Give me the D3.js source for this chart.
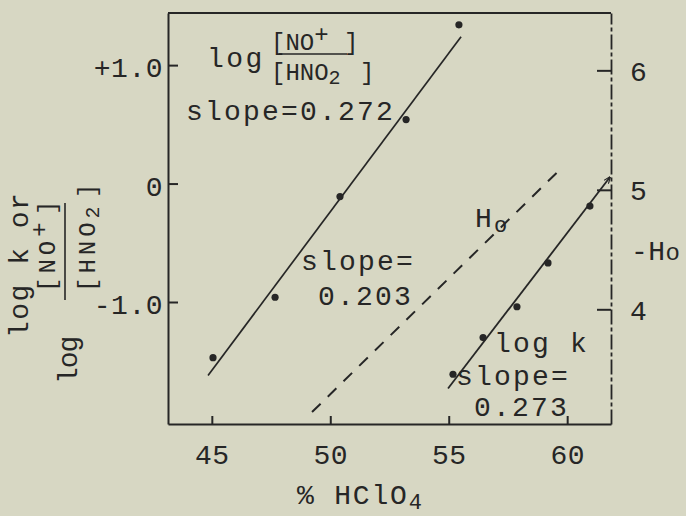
<!DOCTYPE html>
<html>
<head>
<meta charset="utf-8">
<script src="https://cdn.jsdelivr.net/npm/d3@7"></script>
<style>
  body { margin: 0; background: #d7d7c3; }
  svg { display: block; }
  text { font-family: "Liberation Mono", "DejaVu Sans Mono", monospace; fill: #262626; }
</style>
</head>
<body>
<script>
// log [NO+]/[HNO2] against % HClO4 (left axis)
const noPct = [45.05, 47.67, 50.41, 53.20, 55.43];
const noLog = [-1.47, -0.96, -0.11, 0.54, 1.34];
const noFitPct = [44.84, 55.52];
const noFitLog = [-1.62, 1.24];

// log k against % HClO4 (left axis)
const kPct = [55.18, 56.45, 57.88, 59.19, 60.96];
const kLog = [-1.61, -1.30, -1.04, -0.67, -0.19];
const kFitPct = [54.97, 61.81];
const kFitLog = [-1.73, 0.055];

// -H0 line (right axis)
const h0Pct = [49.23, 59.70];
const h0Value = [3.14, 5.17];

// Ticks
const xTicks = [45, 50, 55, 60];
const leftTicks = [1, 0, -1];
const leftTickLabels = ["+1.0", "0", "-1.0"];
const rightTicks = [6, 5, 4];

const ink = "#262626";
const outerWidth = 686;
const outerHeight = 516;
const margin = { top: 13, right: 75, bottom: 92, left: 168 };

const svg = d3.select("body")
  .append("svg")
  .attr("width", outerWidth)
  .attr("height", outerHeight);

const x = d3.scaleLinear()
  .domain([43.15, 61.85])
  .range([margin.left, outerWidth - margin.right]);

const yLeft = d3.scaleLinear()
  .domain([-2.03, 1.44])
  .range([outerHeight - margin.bottom, margin.top]);

const yRight = d3.scaleLinear()
  .domain([3.04, 6.48])
  .range([outerHeight - margin.bottom, margin.top]);

const bottomY = yLeft.range()[0];
const topY = yLeft.range()[1];

// Small arrow head at the end of the log k line
svg.append("defs")
  .append("marker")
  .attr("id", "arrow")
  .attr("viewBox", "0 0 10 10")
  .attr("refX", 9)
  .attr("refY", 5)
  .attr("markerWidth", 7)
  .attr("markerHeight", 7)
  .attr("markerUnits", "userSpaceOnUse")
  .attr("orient", "auto")
  .append("path")
  .attr("d", "M0,1L10,5L0,9")
  .attr("fill", "none")
  .attr("stroke", ink)
  .attr("stroke-width", 1.6);

// Axes, all ticks point into the frame
const fontAxis = (g) =>
{
  g.attr("font-family", null).attr("font-size", 28);
  g.selectAll("text").style("letter-spacing", "0.5px");
  g.selectAll("line, path").attr("stroke", ink).attr("stroke-width", 2);
};

svg.append("g")
  .attr("transform", `translate(${x.range()[0]},0)`)
  .call(d3.axisLeft(yLeft)
    .tickValues(leftTicks)
    .tickFormat((d, i) => leftTickLabels[i])
    .tickSize(-10)
    .tickSizeOuter(0)
    .tickPadding(5))
  .call(fontAxis)
  .call(g => g.selectAll("text").attr("dy", "0.42em"));

svg.append("g")
  .attr("transform", `translate(${x.range()[1]},0)`)
  .call(d3.axisRight(yRight)
    .tickValues(rightTicks)
    .tickFormat(d3.format("d"))
    .tickSize(-14)
    .tickSizeOuter(0)
    .tickPadding(19))
  .call(fontAxis)
  .call(g => g.selectAll("text").attr("dy", "0.36em"))
  .call(g => g.select(".domain").attr("stroke-width", 1.8).attr("stroke-dasharray", "15,3,4,3"));

svg.append("g")
  .attr("transform", `translate(0,${bottomY})`)
  .call(d3.axisBottom(x)
    .tickValues(xTicks)
    .tickFormat(d3.format("d"))
    .tickSize(-8)
    .tickSizeOuter(0)
    .tickPadding(20))
  .call(fontAxis);

// Top edge of the frame
svg.append("line")
  .attr("x1", x.range()[0])
  .attr("x2", x.range()[1])
  .attr("y1", topY)
  .attr("y2", topY)
  .attr("stroke", ink)
  .attr("stroke-width", 2);

// Fitted lines
const lineLeft = d3.line()
  .x(d => x(d[0]))
  .y(d => yLeft(d[1]));

const lineRight = d3.line()
  .x(d => x(d[0]))
  .y(d => yRight(d[1]));

svg.append("path")
  .attr("d", lineLeft(d3.zip(noFitPct, noFitLog)))
  .attr("fill", "none")
  .attr("stroke", ink)
  .attr("stroke-width", 1.7);

svg.append("path")
  .attr("d", lineLeft(d3.zip(kFitPct, kFitLog)))
  .attr("fill", "none")
  .attr("stroke", ink)
  .attr("stroke-width", 1.8)
  .attr("marker-end", "url(#arrow)");

svg.append("path")
  .attr("d", lineRight(d3.zip(h0Pct, h0Value)))
  .attr("fill", "none")
  .attr("stroke", ink)
  .attr("stroke-width", 2)
  .attr("stroke-dasharray", "12,10");

// Data points
svg.append("g")
  .selectAll("circle")
  .data(d3.zip(noPct, noLog).concat(d3.zip(kPct, kLog)))
  .join("circle")
  .attr("cx", d => x(d[0]))
  .attr("cy", d => yLeft(d[1]))
  .attr("r", 3.6)
  .attr("fill", ink);

// Helper that types log [NO+]/[HNO2] in a local frame
function drawLogFraction(parent, p)
{
  const g = parent.append("g").attr("transform", p.transform);

  g.append("text")
    .attr("font-size", 28)
    .style("letter-spacing", p.logSpacing + "px")
    .text("log");

  const num = g.append("text")
    .attr("x", p.fracU)
    .attr("y", p.numV)
    .attr("font-size", 24)
    .style("letter-spacing", p.spacing + "px");
  num.append("tspan").text("[NO");
  num.append("tspan").attr("dy", -8).text("+");
  num.append("tspan").attr("x", p.numClose).attr("dy", 8).text("]");

  g.append("line")
    .attr("x1", p.barU[0])
    .attr("x2", p.barU[1])
    .attr("y1", p.barV)
    .attr("y2", p.barV)
    .attr("stroke", ink)
    .attr("stroke-width", 1.6);

  const den = g.append("text")
    .attr("x", p.fracU)
    .attr("y", p.denV)
    .attr("font-size", 24)
    .style("letter-spacing", p.spacing + "px");
  den.append("tspan").text("[HNO");
  den.append("tspan").attr("dy", 4).attr("font-size", 20).text("2");
  den.append("tspan").attr("x", p.denClose).attr("dy", -4).text("]");
}

// Label inside the plot
drawLogFraction(svg, {
  transform: "translate(207,67)",
  logSpacing: 2.5,
  spacing: 0,
  fracU: 64, numV: -17, numClose: 137,
  barU: [72, 140], barV: -13,
  denV: 13, denClose: 153
});

// Rotated y axis title
const yTitle = svg.append("g");

yTitle.append("text")
  .attr("transform", "translate(28,338) rotate(-90)")
  .attr("font-size", 28)
  .style("letter-spacing", "1.5px")
  .text("log k or");

drawLogFraction(yTitle, {
  transform: "translate(77,384) rotate(-90)",
  logSpacing: -1,
  spacing: 4,
  fracU: 92, numV: -22, numClose: 169,
  barU: [84, 181], barV: -12,
  denV: 18, denClose: 186
});

// Annotations
const note = (tx, ty, str, size) =>
  svg.append("text")
    .attr("x", tx)
    .attr("y", ty)
    .attr("font-size", size || 28)
    .style("letter-spacing", "2.2px")
    .text(str);

note(186, 120, "slope=0.272");
note(301, 270, "slope=");
note(318, 305, "0.203");
note(494, 352, "log k");
note(456, 385, "slope=");
note(474, 416, "0.273");

const h0Label = note(475, 227, "H");
h0Label.append("tspan").attr("dy", 5).attr("font-size", 22).text("o");

const rightTitle = note(631, 260, "-H", 28);
rightTitle.style("letter-spacing", "0.5px");
rightTitle.append("tspan").attr("font-size", 24).text("o");

// x axis title
const xTitle = note(297, 504, "% HClO");
xTitle.style("letter-spacing", "1.8px");
xTitle.append("tspan").attr("dy", 5).attr("font-size", 22).text("4");
</script>
</body>
</html>
